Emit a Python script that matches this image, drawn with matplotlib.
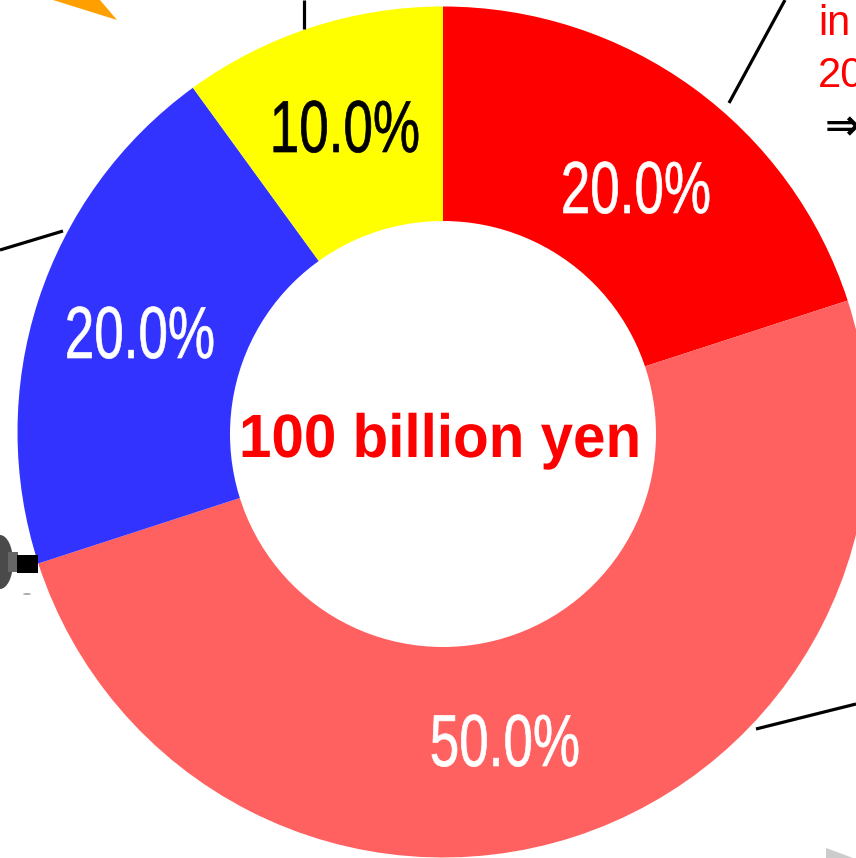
import matplotlib
matplotlib.use('Agg')
import matplotlib.pyplot as plt
from matplotlib.patches import Polygon, Ellipse, Rectangle, Circle
from matplotlib.patheffects import AbstractPathEffect
from matplotlib.transforms import Affine2D

# Slices, clockwise from twelve o'clock
shares = [20.0, 50.0, 20.0, 10.0]
share_labels = ['20.0%', '50.0%', '20.0%', '10.0%']
slice_colors = ['#ff0000', '#ff6060', '#3333ff', '#ffff00']
label_colors = ['white', 'white', 'white', 'black']
center_label = '100 billion yen'

W, H = 856, 858


# Reference is measured in pixels from the top left, axes are y-up
def fy(y):
    return H - y


# Squeezes a text horizontally around its anchor, the original font is narrower.
# A thin outline in the text colour makes up for the strokes lost by squeezing.
class Squeeze(AbstractPathEffect):
    def __init__(self, cx, sx, grow=0.0):
        super().__init__()
        self.cx = cx
        self.sx = sx
        self.grow = grow

    def draw_path(self, renderer, gc, tpath, affine, rgbFace=None):
        squeeze = Affine2D().translate(-self.cx, 0).scale(self.sx, 1).translate(self.cx, 0)
        gc0 = renderer.new_gc()
        gc0.copy_properties(gc)
        gc0.set_foreground(rgbFace)
        gc0.set_linewidth(self.grow)
        renderer.draw_path(gc0, tpath, affine + squeeze, rgbFace)
        gc0.restore()


fig = plt.figure(figsize=(W / 100, H / 100), dpi=100)
ax = fig.add_axes([0, 0, 1, 1])
ax.pie(shares, colors=slice_colors, startangle=90, counterclock=False,
       center=(443, fy(432)), radius=425.5,
       wedgeprops={'linewidth': 0}, frame=False)
ax.add_patch(Circle((443, fy(434)), 213, color='white', lw=0, zorder=3))
ax.set_xlim(0, W)
ax.set_ylim(0, H)
ax.axis('off')

# Percent labels
label_pos = [(636, 213), (505, 766), (140, 358), (345, 152)]
for txt, col, (x, y) in zip(share_labels, label_colors, label_pos):
    ax.text(x, fy(y), txt, color=col, fontsize=53, family='Liberation Sans', ha='center', va='baseline',
            zorder=4, path_effects=[Squeeze(x, 0.72, grow=0.5)])

ax.text(440, fy(457), center_label, color='#ff0000', fontsize=44, family='Liberation Sans',
        fontweight='bold', ha='center', va='baseline', zorder=4, path_effects=[Squeeze(440, 0.955)])

# Leader lines cut by the crop
leaders = [((785, 0), (729, 103)), ((304, 0), (304, 29)), ((0, 250), (63, 231)), ((756, 729), (856, 704))]
for (x0, y0), (x1, y1) in leaders:
    ax.plot([x0, x1], [fy(y0), fy(y1)], color='black', lw=2.3, solid_capstyle='butt')

# Bits of the callout text at the right edge
ax.text(818, fy(35), 'in', color='#ff0000', fontsize=30, family='Liberation Sans', ha='left', va='baseline')
ax.text(818, fy(87), '20', color='#ff0000', fontsize=30, family='Liberation Sans', ha='left', va='baseline')
ax.text(825, fy(139), '⇒', color='black', fontsize=30, family='DejaVu Sans', fontweight='bold', ha='left', va='baseline')

# Scraps of the surrounding artwork
ax.add_patch(Polygon([(53, fy(0)), (100, fy(0)), (117, fy(20))], color='#ffa000', lw=0))
ax.add_patch(Polygon([(826, fy(848)), (853, fy(858)), (826, fy(858))], color='#cccccc', lw=0))
ax.add_patch(Ellipse((0, fy(562)), 26, 54, color='#4a4a4a', lw=0))
ax.add_patch(Rectangle((8, fy(572)), 10, 20, color='#666666', lw=0))
ax.add_patch(Rectangle((17, fy(573)), 21, 18, color='black', lw=0))
ax.add_patch(Ellipse((27, fy(594)), 8, 2, color='#aaaaaa', lw=0))

fig.savefig('out.png', dpi=100)
